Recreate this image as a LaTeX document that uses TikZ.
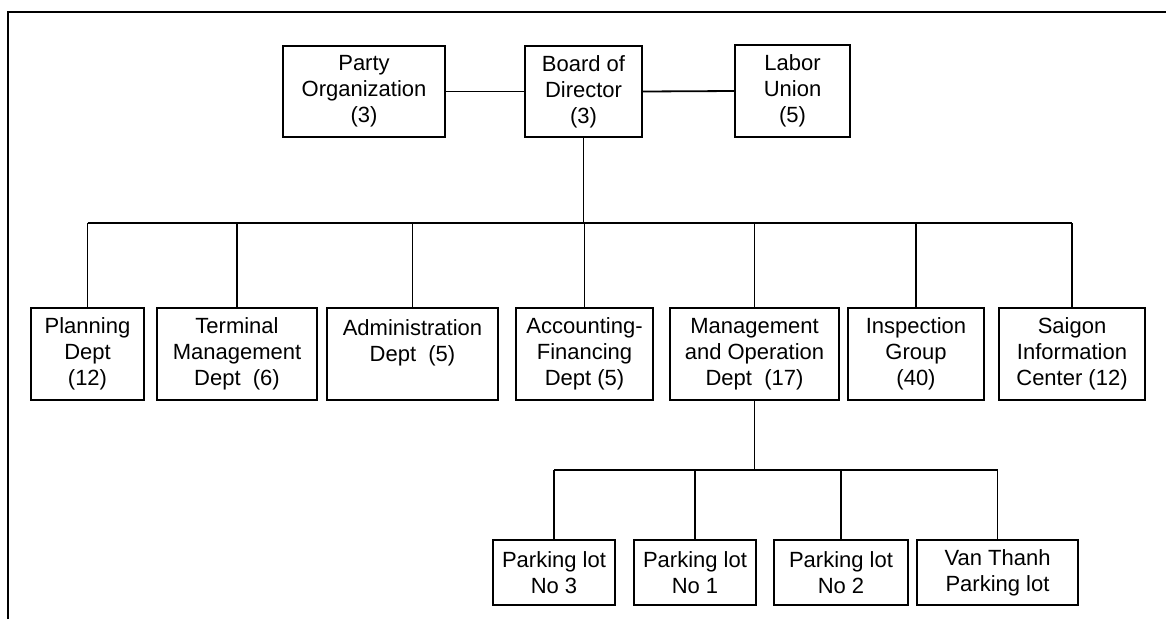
\documentclass[tikz,border=0pt]{standalone}
\usepackage{fontspec}
\setmainfont{Liberation Sans}
\begin{document}
\begin{tikzpicture}[x=1pt,y=1pt,
  box/.style={draw, line width=1.8pt, inner sep=0pt, align=center,
    font=\fontsize{22}{26}\selectfont},
  link/.style={line width=1.8pt}]
\useasboundingbox (0,0) rectangle (1166,-619);
% frame
\coordinate (fl) at (8,-619);
\coordinate (fc) at (8,-12);
\coordinate (fr) at (1166,-12);
\draw[link] (fl) -- (fc) -- (fr);
% top row
\node[box, minimum width=162, minimum height=91] (party) at (364,-91.5) {Party\\Organization\\(3)};
\node[box, minimum width=117, minimum height=91] (board) at (583.5,-91.5) {Board of\\Director\\(3)};
\node[box, minimum width=115, minimum height=92] (labor) at (792.5,-91) {Labor\\Union\\(5)};
\draw[link] (party.east) -- (board.west);
\draw[link] (board.east) -- (labor.west);
% department row
\node[box, minimum width=113, minimum height=92] (plan) at (87.5,-354) {Planning\\Dept\\(12)};
\node[box, minimum width=160, minimum height=92] (term) at (237,-354) {Terminal\\Management\\Dept\ \ (6)};
\node[box, minimum width=171, minimum height=92] (admin) at (412.5,-354) {Administration\\Dept\ \ (5)\\~};
\node[box, minimum width=137, minimum height=92] (acc) at (584.5,-354) {Accounting-\\Financing\\Dept (5)};
\node[box, minimum width=169, minimum height=92] (mgmt) at (754.5,-354) {Management\\and Operation\\Dept\ \ (17)};
\node[box, minimum width=136, minimum height=92] (insp) at (916,-354) {Inspection\\Group\\(40)};
\node[box, minimum width=146, minimum height=92] (sgn) at (1072,-354) {Saigon\\Information\\Center (12)};
\coordinate (bus) at (0,-223);
\draw[link] (board.south) -- (board.south |- bus);
\draw[link] (plan.north |- bus) -- (sgn.north |- bus);
\foreach \n in {plan,term,admin,acc,mgmt,insp,sgn}
  \draw[link] (\n.north) -- (\n.north |- bus);
% parking row
\node[box, minimum width=122, minimum height=65] (p3) at (554,-572.5) {Parking lot\\No 3};
\node[box, minimum width=122, minimum height=65] (p1) at (695,-572.5) {Parking lot\\No 1};
\node[box, minimum width=134, minimum height=65] (p2) at (841,-572.5) {Parking lot\\No 2};
\node[box, minimum width=161, minimum height=65] (vt) at (997.5,-572.5) {Van Thanh\\Parking lot};
\coordinate (lbus) at (0,-470);
\draw[link] (mgmt.south) -- (mgmt.south |- lbus);
\draw[link] (p3.north |- lbus) -- (vt.north |- lbus);
\foreach \n in {p3,p1,p2,vt}
  \draw[link] (\n.north) -- (\n.north |- lbus);
\end{tikzpicture}
\end{document}
